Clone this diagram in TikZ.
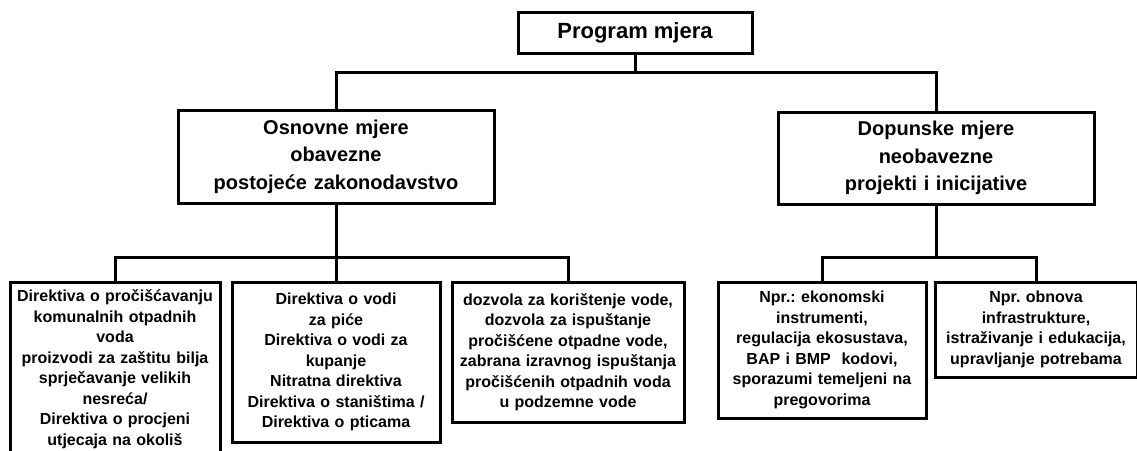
\documentclass[tikz,border=0pt]{standalone}
\usepackage{fontspec}
\setmainfont{Liberation Sans}
\frenchspacing
\begin{document}
\begin{tikzpicture}[x=1pt,y=-1pt,
  box/.style={draw=black,line width=3pt,rectangle,inner sep=0pt,align=center},
  small/.style={box,font={\fontsize{16}{20.5}\selectfont\bfseries\frenchspacing\spaceskip=0.2em plus 0.05em\xspaceskip=0.2em plus 0.05em}},
  head/.style={box,font={\fontsize{20}{27.5}\selectfont\bfseries}},
  conn/.style={line width=3pt,line join=miter}]
\useasboundingbox (0,0) rectangle (1137,450);
\fill[white] (0,0) rectangle (1137,450);
\node[box,font={\fontsize{22}{26}\selectfont\bfseries},minimum width=234pt,minimum height=41pt] (prog) at (635,32.5) {Program mjera};
\node[head,minimum width=316pt,minimum height=93pt,text width=310pt] (osn) at (336,156.5) {Osnovne mjere\\obavezne\\postojeće zakonodavstvo};
\node[head,minimum width=316pt,minimum height=92pt,text width=310pt] (dop) at (936,158) {Dopunske mjere\\neobavezne\\projekti i inicijative};
\node[small,minimum width=210pt,minimum height=174pt,text width=204pt] (b1) at (115,369) {Direktiva o pročišćavanju\\komunalnih otpadnih\\voda\\proizvodi za zaštitu bilja\\sprječavanje velikih\\nesreća/\\Direktiva o procjeni\\utjecaja na okoliš};
\node[small,minimum width=208pt,minimum height=160pt,text width=202pt] (b2) at (336,362) {Direktiva o vodi\\za piće\\Direktiva o vodi za\\kupanje\\Nitratna direktiva\\Direktiva o staništima /\\Direktiva o pticama};
\node[small,minimum width=232pt,minimum height=140pt,text width=226pt] (b3) at (568,352) {dozvola za korištenje vode,\\dozvola za ispuštanje\\pročišćene otpadne vode,\\zabrana izravnog ispuštanja\\pročišćenih otpadnih voda\\u podzemne vode};
\node[small,minimum width=208pt,minimum height=136pt,text width=202pt] (b4) at (822,350) {Npr.: ekonomski\\instrumenti,\\regulacija ekosustava,\\BAP i BMP\ \ kodovi,\\sporazumi temeljeni na\\pregovorima};
\node[small,minimum width=202pt,minimum height=95pt,text width=196pt] (b5) at (1036,329.5) {Npr. obnova\\infrastrukture,\\istraživanje i edukacija,\\upravljanje potrebama};
\coordinate (j1) at (635,72);
\coordinate (j2) at (336,257);
\coordinate (j3) at (936,257);
\draw[conn] (prog.south) -- (j1);
\draw[conn] (osn.north) |- (j1) -| (dop.north);
\draw[conn] (osn.south) -- (b2.north);
\draw[conn] (b1.north) |- (j2) -| (b3.north);
\draw[conn] (dop.south) -- (j3);
\draw[conn] (b4.north) |- (j3) -| (b5.north);
\end{tikzpicture}
\end{document}
